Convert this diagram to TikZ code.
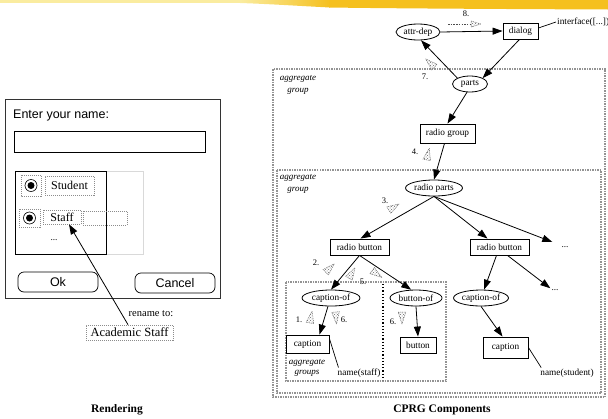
\documentclass[tikz,border=0pt]{standalone}
\usepackage{fontspec}
\setmainfont{Liberation Serif}
\newfontfamily\arialf{Liberation Sans}
\usetikzlibrary{shapes.geometric,arrows.meta,patterns}
\definecolor{bannergold}{RGB}{245,192,30}
\definecolor{bannerpale}{RGB}{250,236,160}
\begin{document}
\begin{tikzpicture}[x=1pt,y=-1pt,
  every node/.style={font=\fontsize{9.3}{10}\selectfont, inner sep=1pt},
  ell/.style={draw, ellipse, inner sep=0pt, line width=0.8pt, minimum height=16pt},
  bx/.style={draw, rectangle, inner sep=0pt, line width=0.85pt},
  conn/.style={draw, line width=0.8pt, -{Triangle[length=10pt,width=7pt]}},
  plainline/.style={draw, line width=0.7pt},
  grp/.style={draw=gray!85, line width=1.4pt, dash pattern=on 1.5pt off 1pt},
  dotbox/.style={draw=gray!90, line width=0.7pt, dash pattern=on 1pt off 1pt},
  agl/.style={font=\fontsize{9}{11}\selectfont\itshape, align=center, inner sep=0pt},
  numl/.style={font=\fontsize{8.5}{9}\selectfont, inner sep=0pt},
  bigf/.style={font=\fontsize{12}{14}\selectfont},
  sansf/.style={font=\arialf\fontsize{12.5}{14}\selectfont},
  titlef/.style={font=\fontsize{11.5}{13}\selectfont\bfseries},
  hatcharrow/.pic={\draw[black!60, line width=0.5pt, dash pattern=on 1pt off 0.8pt,
      pattern=crosshatch dots, pattern color=black!60] (6,0) -- (-6,3.8) -- (-6,-3.8) -- cycle;}
]
\useasboundingbox (0,0) rectangle (608,418);
% banner
\fill[bannerpale] (0,0) rectangle (262,2.5);
\shade[left color=bannerpale, right color=bannergold] (240,0) -- (330,0) -- (330,7.5) .. controls (300,6) and (270,4) .. (240,3) -- cycle;
\fill[bannergold] (329,0) -- (608,0) -- (608,9.5) .. controls (500,9) and (400,8.5) .. (329,7.5) -- cycle;

% ---------------- Rendering (left) ----------------
\draw[line width=0.7pt, draw=black!80] (5,99) rectangle (220,298);
\node[anchor=west, sansf] (enter) at (12,115) {Enter your name:};
\draw[line width=0.8pt] (14,131) rectangle (205,152);
\draw[gray!30, line width=0.6pt] (15,171) rectangle (143,254);
\draw[line width=0.7pt] (15,171) rectangle (106,254);
\draw[dotbox] (21,175) rectangle (41,196);
\draw[line width=0.6pt] (31,185.5) circle (6pt);
\fill (31,185.5) circle (3.5pt);
\draw[dotbox] (19,209) rectangle (40,227);
\draw[line width=0.6pt] (29.5,218) circle (6pt);
\fill (29.5,218) circle (3.5pt);
\node[dotbox, bigf, minimum width=49pt, minimum height=19pt] (student) at (69.5,185.5) {Student};
\node[dotbox, bigf, minimum width=38pt, minimum height=14pt] (staff) at (62,217) {Staff};
\draw[dotbox] (83,211) rectangle (127,225);
\node (rdots) at (54,240) {...};
\node[draw, rounded corners=6pt, line width=0.7pt, minimum width=80pt, minimum height=20pt, sansf] (ok) at (58,282) {Ok};
\node[draw, rounded corners=6pt, line width=0.7pt, minimum width=80pt, minimum height=20pt, sansf] (cancel) at (175,283) {Cancel};
\node[dotbox, font=\fontsize{12.5}{14}\selectfont, minimum width=87pt, minimum height=15pt] (acad) at (129.5,332.5) {Academic Staff};
\node[font=\fontsize{10.5}{12}\selectfont] (rename) at (151,314) {rename to:};
\draw[conn] ([xshift=-1.5pt]acad.north) -- ([xshift=7pt]staff.south);
\node[titlef] (rend) at (117,410) {Rendering};

% ---------------- CPRG Components (right) ----------------
\draw[grp] (273,69) rectangle (605,397);
\node[agl, font=\fontsize{9}{12}\selectfont\itshape] (ag1) at (298,85) {aggregate\\group};
\draw[grp] (277,170) rectangle (601,393);
\node[agl, font=\fontsize{9}{12}\selectfont\itshape] (ag2) at (298,184) {aggregate\\group};
\draw[grp] (286,282) rectangle (446,381);
\draw[line width=1.2pt, dash pattern=on 1.2pt off 2pt] (383,284) -- (383,380);
\node[agl, font=\fontsize{9}{10}\selectfont\itshape] (ag3) at (307,368) {aggregate\\groups};

\node[ell, minimum width=44pt] (attrdep) at (418,32) {attr-dep};
\node[bx, minimum width=35pt, minimum height=16pt] (dialog) at (520.5,31) {dialog};
\node[anchor=west] (iface) at (556,22) {interface([...])};
\node[numl] (n8) at (466,14) {8.};
\node[ell, minimum width=35pt] (parts) at (470,84) {parts};
\node[numl] (n7) at (425,77) {7.};
\node[bx, minimum width=55pt, minimum height=19pt] (rgroup) at (447.5,133.5) {radio group};
\node[numl] (n4) at (415,152) {4.};
\node[ell, minimum width=57pt] (rparts) at (434,188) {radio parts};
\node[numl] (n3) at (385,201) {3.};
\node[bx, minimum width=59pt, minimum height=16pt] (rb1) at (359.5,247) {radio button};
\node[bx, minimum width=59pt, minimum height=16pt] (rb2) at (499.5,247) {radio button};
\node (dots1) at (565,247) {...};
\node[numl] (n2) at (316,263) {2.};
\node[numl] (n5) at (363,282) {5.};
\node[ell, minimum width=58pt] (cof1) at (331,298) {caption-of};
\node[ell, minimum width=52pt] (bof) at (416,298) {button-of};
\node[ell, minimum width=55pt] (cof2) at (481,298) {caption-of};
\node (dots2) at (555,290) {...};
\node[numl] (n1) at (299,320) {1.};
\node[numl] (n6a) at (344,320) {6.};
\node[numl] (n6b) at (393,322) {6.};
\node[bx, minimum width=43pt, minimum height=18pt] (cap1) at (307.5,344) {caption};
\node[bx, minimum width=36pt, minimum height=16pt] (btn) at (418,345) {button};
\node[bx, minimum width=45pt, minimum height=21pt] (cap2) at (505.5,347.5) {caption};
\node (nstaff) at (359,373) {name(staff)};
\node (nstudent) at (567,373) {name(student)};
\node[titlef] (cprg) at (442,410) {CPRG Components};

% connectors
\draw[conn] (attrdep.east) -- (dialog.west);
\draw[plainline] ([yshift=3pt]dialog.east) -- (iface.west);
\draw[conn] ([xshift=-1pt]dialog.south) -- (parts.north east);
\draw[conn] (parts.north west) -- (attrdep.-70);
\draw[conn] (parts.-110) -- (rgroup.north);
\draw[conn] ([xshift=-3pt]rgroup.south) -- (rparts.north);
\draw[conn] (rparts.south) -- ([xshift=1pt]rb1.north);
\draw[conn] (rparts.south) -- ([xshift=-12pt]rb2.north);
\draw[conn] (rparts.south) -- ([xshift=-8pt,yshift=5pt]dots1.west);
\draw[conn] (rb1.south) -- (cof1.north);
\draw[conn] (rb1.south) -- (bof.120);
\draw[conn] ([xshift=-3pt]rb2.south) -- (cof2.70);
\draw[conn] ([xshift=8pt]rb2.south) -- (dots2.north west);
\draw[conn] (cof1.-110) -- ([xshift=12pt]cap1.north);
\draw[conn] (bof.south) -- (btn.north);
\draw[conn] (cof2.south) -- ([xshift=-3pt]cap2.north);
\draw[plainline] ([yshift=-4pt]cap1.north east) -- ([xshift=2pt]nstaff.north west);
\draw[plainline] (cap2.east) -- ([xshift=2pt]nstudent.north west);

% hatched order arrows
\draw[black!70, line width=0.6pt, dash pattern=on 1.5pt off 1.2pt] (448,24) -- (471,24);
\pic[scale=0.8] at (476,24) {hatcharrow};
\pic[rotate=137] at (430,63) {hatcharrow};
\pic[rotate=78] at (428,154) {hatcharrow};
\pic[rotate=31] at (394,207) {hatcharrow};
\pic[rotate=45] at (330,268) {hatcharrow};
\pic[rotate=60] at (352,273) {hatcharrow};
\pic[rotate=-35] at (377,274) {hatcharrow};
\pic[rotate=80] at (311,317) {hatcharrow};
\pic[rotate=-85] at (336,318) {hatcharrow};
\pic[rotate=-90] at (402,318) {hatcharrow};
\end{tikzpicture}
\end{document}
